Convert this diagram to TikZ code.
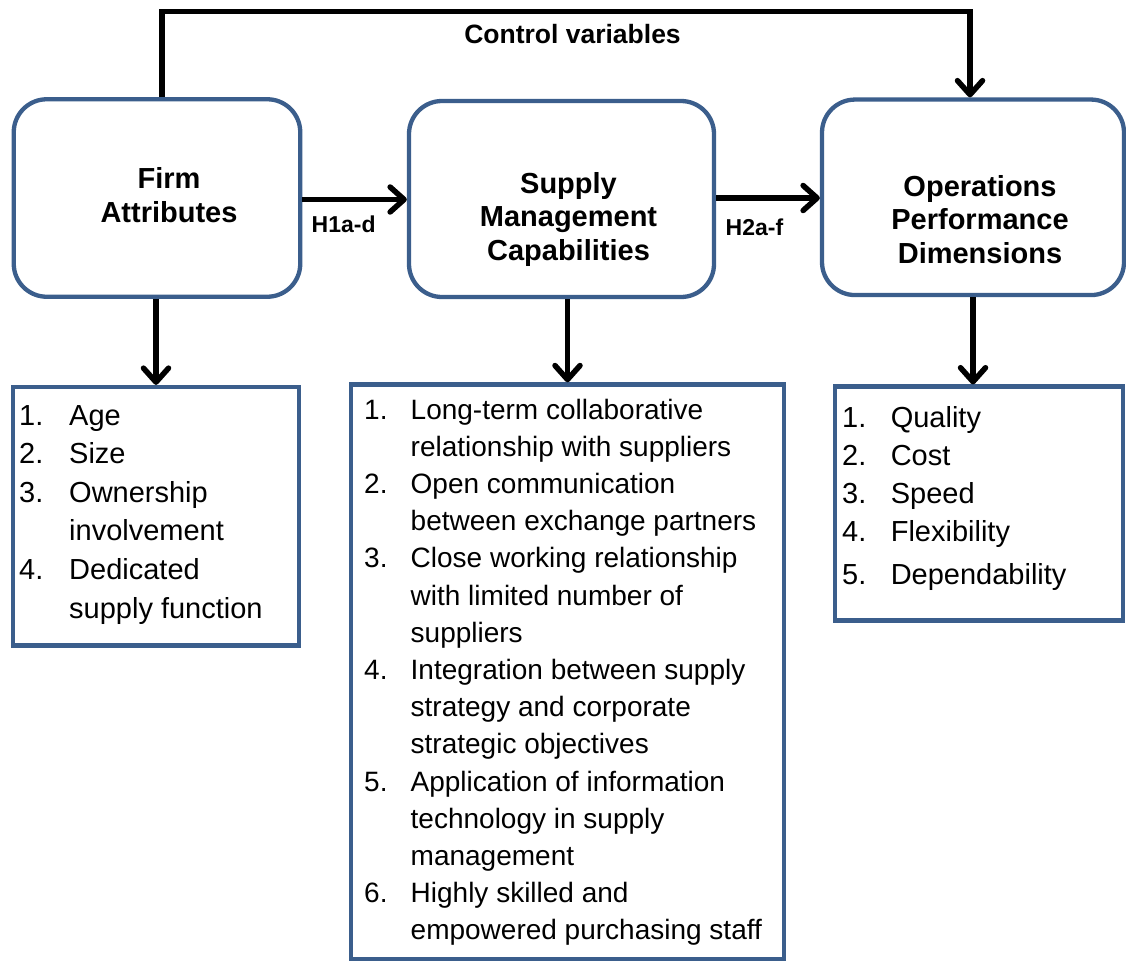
\documentclass[tikz,border=0pt]{standalone}
\usepackage{fontspec}
\setmainfont{Liberation Sans}
\usetikzlibrary{arrows.meta,calc}
\definecolor{boxblue}{RGB}{59,94,140}
\begin{document}
\begin{tikzpicture}[x=1pt,y=-1pt,
  mainbox/.style={draw=boxblue,line width=4.3pt,rounded corners=33pt,fill=white,inner sep=0pt},
  listbox/.style={draw=boxblue,line width=4.3pt,fill=white,inner sep=0pt},
  conn/.style={line width=5.5pt,-{Straight Barb[length=14pt,width=25pt,round]}},
  title/.style={font=\fontsize{29}{33.5}\selectfont\bfseries,align=center,inner sep=0pt},
  hyp/.style={font=\fontsize{23}{27}\selectfont\bfseries,inner sep=0pt,anchor=base west},
  listtext/.style={inner sep=0pt,anchor=base west}
]
\useasboundingbox (0,0) rectangle (1126,961);

% main boxes
\node[mainbox,minimum width=286.5pt,minimum height=197.5pt] (firm) at (157,198) {};
\node[title] (firmt) at (169,195) {Firm\\Attributes};
\node[mainbox,minimum width=305pt,minimum height=196pt] (sup) at (561.5,199) {};
\node[title] (supt) at (568.5,219) {Supply\\Management\\Capabilities};
\node[mainbox,minimum width=302pt,minimum height=195.5pt] (ops) at (973,197.3) {};
\node[title] (opst) at (980,219.5) {Operations\\Performance\\Dimensions};

% list boxes
\node[listbox,minimum width=286.5pt,minimum height=258.5pt] (firml) at (156,516.3) {};
\node[listbox,minimum width=433pt,minimum height=574.5pt] (supl) at (567.5,671.7) {};
\node[listbox,minimum width=288pt,minimum height=234pt] (opsl) at (979,503.6) {};

\node[listtext,font=\fontsize{29}{38.6}\selectfont] (firmi) at (19,425)
 {\begin{tabular}[t]{@{}p{50pt}@{}l@{}}
 1.&Age\\
 2.&Size\\
 3.&Ownership\\
 &involvement\\
 4.&Dedicated\\
 &supply function
 \end{tabular}};

\node[listtext,font=\fontsize{28}{37.2}\selectfont] (supi) at (364,419)
 {\begin{tabular}[t]{@{}p{46.5pt}@{}l@{}}
 1.&Long-term collaborative\\
 &relationship with suppliers\\
 2.&Open communication\\
 &between exchange partners\\
 3.&Close working relationship\\
 &with limited number of\\
 &suppliers\\
 4.&Integration between supply\\
 &strategy and corporate\\
 &strategic objectives\\
 5.&Application of information\\
 &technology in supply\\
 &management\\
 6.&Highly skilled and\\
 &empowered purchasing staff
 \end{tabular}};

\node[listtext,font=\fontsize{29}{38}\selectfont] (opsi) at (842,427)
 {\begin{tabular}[t]{@{}p{48.6pt}@{}l@{}}
 1.&Quality\\
 2.&Cost\\
 3.&Speed\\
 4.&Flexibility\\[5pt]
 5.&Dependability
 \end{tabular}};

% labels
\node[font=\fontsize{26.5}{30}\selectfont\bfseries,anchor=base,inner sep=0pt] (ctrltxt) at (572.5,43.3) {Control variables};
\node[hyp] (h1) at (311.5,232) {H1a-d};
\node[hyp] (h2) at (725.5,235) {H2a-f};

% connectors
\coordinate (ctop) at (566,11.5);
\coordinate (hy1) at (0,199.5);
\coordinate (hy2) at (0,198);
\draw[conn] ([xshift=5pt]firm.north) |- (ctop) -| ([xshift=-3pt]ops.north);
\draw[conn] (firm.east |- hy1) -- (sup.west |- hy1);
\draw[conn] (sup.east |- hy2) -- (ops.west |- hy2);
\draw[conn] (firm.south -| firml.north) -- (firml.north);
\draw[conn] (sup.south -| supl.north) -- (supl.north);
\draw[conn] (ops.south) -- (ops.south |- opsl.north);
\end{tikzpicture}
\end{document}
